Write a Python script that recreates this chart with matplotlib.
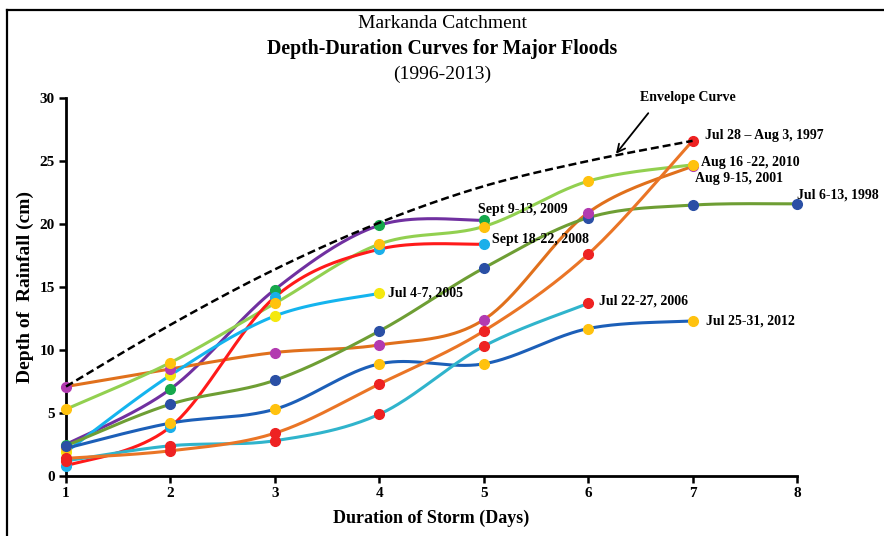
import numpy as np
import matplotlib
matplotlib.use("Agg")
import matplotlib.pyplot as plt
from matplotlib.lines import Line2D

plt.rcParams['font.family'] = ['Liberation Serif', 'DejaVu Serif']

# ---------------- data ----------------
days = [1, 2, 3, 4, 5, 6, 7, 8]
labels = ["Sept 9-13, 2009", "Aug 9-15, 2001", "Aug 16 -22, 2010", "Sept 18-22, 2008",
          "Jul 4-7, 2005", "Jul 6-13, 1998", "Jul 25-31, 2012", "Jul 22-27, 2006",
          "Jul 28 \u2013 Aug 3, 1997"]
s2009 = [2.5, 6.9, 14.8, 19.9, 20.3]
s2001 = [7.1, 8.5, 9.8, 10.4, 12.4, 20.9, 24.6]
s2010 = [5.3, 9.0, 13.7, 18.4, 19.8, 23.4, 24.7]
s2008 = [0.8, 3.9, 14.2, 18.0, 18.4]
s2005 = [1.9, 8.0, 12.7, 14.5]
s1998 = [2.4, 5.7, 7.6, 11.5, 16.5, 20.5, 21.5, 21.6]
s2012 = [2.2, 4.2, 5.3, 8.9, 8.9, 11.7, 12.3]
s2006 = [1.2, 2.4, 2.8, 4.9, 10.3, 13.7]
s1997 = [1.4, 2.0, 3.4, 7.3, 11.5, 17.6, 26.6]
envelope = [7.1, 12.0, 16.4, 20.1, 23.0, 25.0, 26.6]

series = [s2009, s2001, s2010, s2008, s2005, s1998, s2012, s2006, s1997]
line_colors = ['#7030A0', '#E0701C', '#92D050', '#FF1A1A', '#14B4EE',
               '#6E9E34', '#1C5FB8', '#30B4CC', '#EA7526']
marker_colors = ['#16A84C', '#B23AB0', '#FFC20E', '#1AAFEA', '#F4E80E',
                 '#2A4FA5', '#FFC20E', '#EE2222', '#EE2222']
marker_z = [4.0, 4.3, 4.5, 4.0, 4.0, 4.1, 4.0, 4.0, 4.0]
# label offsets in points (dx, dy) from last point
label_off = [(-4, 8), (2, -9), (6, 2), (6, 3), (6, 0), (0, 6), (10, 0), (8, 2), (9, 3.5)]


def smooth(x, y, n=40):
    x = np.asarray(x, float)
    y = np.asarray(y, float)
    if len(x) < 3:
        return x, y
    px = np.concatenate([[x[0]], x, [x[-1]]])
    py = np.concatenate([[y[0]], y, [y[-1]]])
    xs, ys = [], []
    t = np.linspace(0, 1, n)
    for i in range(1, len(px) - 2):
        p0x, p0y = px[i], py[i]
        p3x, p3y = px[i + 1], py[i + 1]
        c1x = p0x + (px[i + 1] - px[i - 1]) / 6
        c1y = p0y + (py[i + 1] - py[i - 1]) / 6
        c2x = p3x - (px[i + 2] - px[i]) / 6
        c2y = p3y - (py[i + 2] - py[i]) / 6
        bx = (1 - t) ** 3 * p0x + 3 * (1 - t) ** 2 * t * c1x + 3 * (1 - t) * t ** 2 * c2x + t ** 3 * p3x
        by = (1 - t) ** 3 * p0y + 3 * (1 - t) ** 2 * t * c1y + 3 * (1 - t) * t ** 2 * c2y + t ** 3 * p3y
        xs.append(bx)
        ys.append(by)
    return np.concatenate(xs), np.concatenate(ys)


W, H = 884, 536
fig = plt.figure(figsize=(W / 100, H / 100), dpi=100)
ax = fig.add_axes([66 / W, (H - 476) / H, (797 - 66) / W, (476 - 98) / H])

# envelope
ex, ey = smooth(days[:len(envelope)], envelope)
ax.plot(ex, ey, color='black', lw=1.8, ls=(0, (3.2, 1.6)), zorder=5, clip_on=False)

for vals, lc, mc, mz, lab, off in zip(series, line_colors, marker_colors, marker_z, labels, label_off):
    xd = days[:len(vals)]
    sx, sy = smooth(xd, vals)
    ax.plot(sx, sy, color=lc, lw=2.2, zorder=3, solid_capstyle='round', clip_on=False)
    ax.plot(xd, vals, ls='none', marker='o', ms=7, mfc=mc, mec=mc, zorder=mz, clip_on=False)
    ax.annotate(lab, xy=(xd[-1], vals[-1]), xytext=off, textcoords='offset points',
                ha='left', va='center', fontsize=10, fontweight='bold', zorder=6)

ax.set_xlim(1, 8)
ax.set_ylim(0, 30)
ax.set_xticks(days)
ax.set_yticks([0, 5, 10, 15, 20, 25, 30])
for s in ['top', 'right']:
    ax.spines[s].set_visible(False)
for s in ['left', 'bottom']:
    ax.spines[s].set_linewidth(2.0)
    ax.spines[s].set_zorder(2)
ax.tick_params(axis='both', direction='out', length=5, width=1.8, labelsize=11, pad=3)
for t in ax.get_xticklabels() + ax.get_yticklabels():
    t.set_fontweight('bold')
ax.set_xlabel('Duration of Storm (Days)', fontsize=13, fontweight='bold', labelpad=7)
ax.set_ylabel('Depth of  Rainfall (cm)', fontsize=14, fontweight='bold', labelpad=4)

# envelope label & arrow
fig.text(688 / W, 1 - 98 / H, 'Envelope Curve', ha='center', va='center',
         fontsize=10, fontweight='bold')
ax.annotate('', xy=(6.25, 25.4), xycoords='data',
            xytext=(650 / W, 1 - 111 / H), textcoords='figure fraction',
            arrowprops=dict(arrowstyle='->', color='black', lw=1.3, mutation_scale=14))

# titles
fig.text(0.5, 1 - 24 / H, 'Markanda Catchment', ha='center', va='center', fontsize=14)
fig.text(0.5, 1 - 49 / H, 'Depth-Duration Curves for Major Floods', ha='center', va='center',
         fontsize=14.2, fontweight='bold')
fig.text(0.5, 1 - 74 / H, '(1996-2013)', ha='center', va='center', fontsize=14)

# frame (left and top)
fig.add_artist(Line2D([7 / W, 7 / W], [0, 1 - 10 / H], color='black', lw=1.6))
fig.add_artist(Line2D([7 / W, 1], [1 - 10 / H, 1 - 10 / H], color='black', lw=1.6))

fig.savefig('out.png', dpi=100)
